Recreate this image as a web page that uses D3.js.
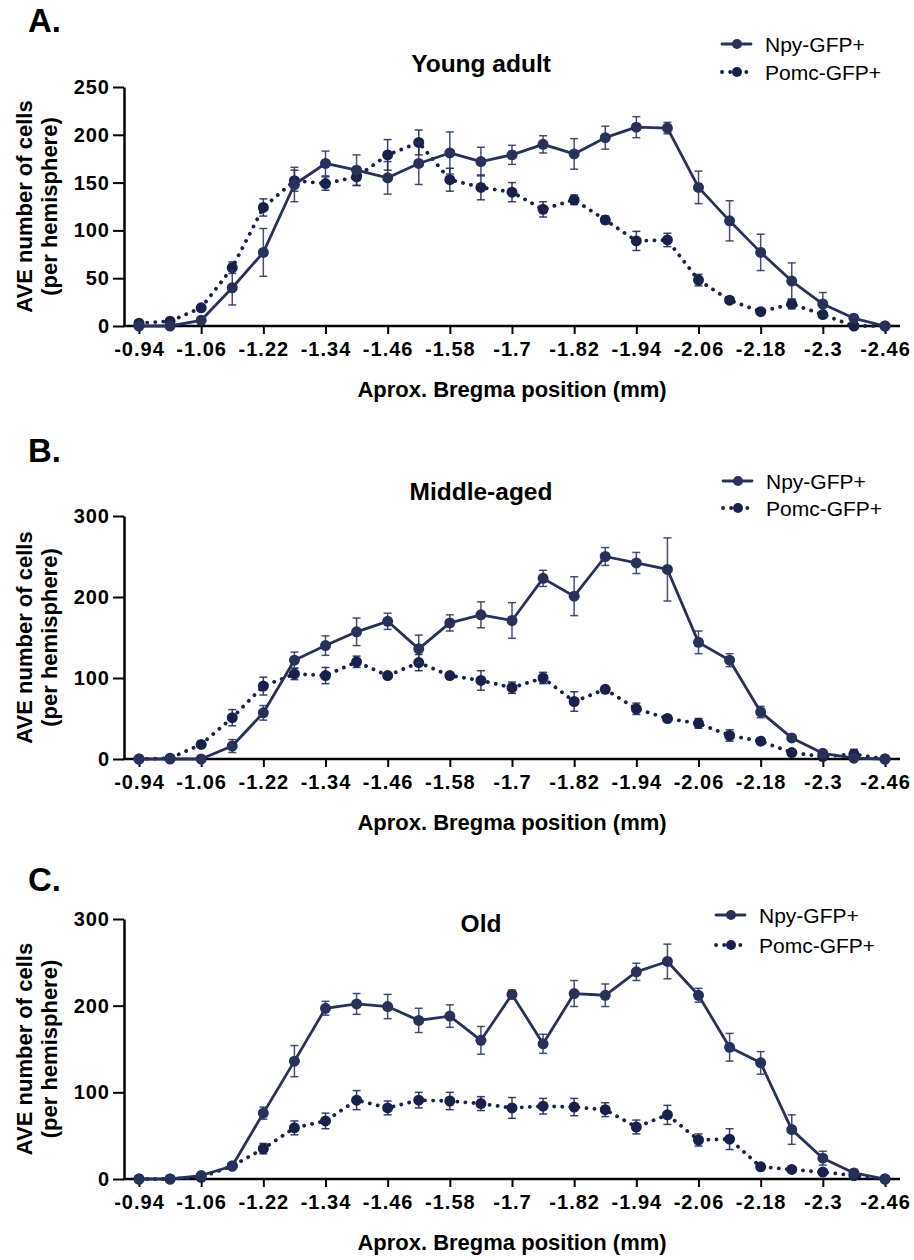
<!DOCTYPE html>
<html>
<head>
<meta charset="utf-8">
<script src="https://cdn.jsdelivr.net/npm/d3@7"></script>
<style>
  body { margin: 0; background: #fff; }
  text { font-family: "Liberation Sans", Arial, Helvetica, sans-serif; fill: #000; }
</style>
</head>
<body>
<div id="chart"></div>
<script>
// bregma positions, one point every half-label
var positions = ["-0.94", "-1.0", "-1.06", "-1.14", "-1.22", "-1.28", "-1.34", "-1.4", "-1.46", "-1.52",
  "-1.58", "-1.64", "-1.7", "-1.76", "-1.82", "-1.88", "-1.94", "-2.0", "-2.06", "-2.12",
  "-2.18", "-2.24", "-2.3", "-2.38", "-2.46"];
var tickPositions = positions.filter(function (d, i) { return i % 2 == 0; });

var seriesNames = ["Npy-GFP+", "Pomc-GFP+"];

// A. young adult
var npyA = [0, 0, 6, 40, 77, 148, 170, 163, 155, 170, 181, 172, 179, 190, 180, 197, 208, 207, 145, 110, 77, 47, 23, 8, 0];
var npyAErr = [1, 1, 2, 18, 25, 18, 13, 16, 17, 22, 22, 15, 10, 9, 16, 12, 11, 6, 17, 21, 19, 19, 12, 4, 1];
var pomcA = [3, 5, 19, 61, 124, 152, 149, 156, 179, 192, 153, 145, 140, 122, 132, 111, 89, 90, 48, 27, 15, 23, 12, 0, 0];
var pomcAErr = [1, 1, 3, 6, 9, 11, 7, 9, 16, 13, 12, 13, 10, 8, 5, 4, 10, 7, 6, 3, 2, 5, 2, 1, 1];

// B. middle-aged
var npyB = [0, 0, 0, 16, 57, 122, 140, 157, 170, 136, 168, 178, 171, 223, 201, 250, 242, 234, 144, 122, 58, 26, 7, 1, 0];
var npyBErr = [1, 1, 1, 8, 9, 10, 12, 17, 10, 17, 10, 16, 22, 10, 24, 11, 13, 39, 14, 8, 7, 2, 2, 1, 1];
var pomcB = [0, 1, 18, 51, 90, 105, 103, 120, 103, 119, 103, 97, 88, 100, 71, 86, 62, 50, 44, 29, 22, 8, 3, 6, 0];
var pomcBErr = [1, 1, 2, 10, 11, 7, 10, 7, 2, 10, 2, 12, 7, 7, 12, 2, 7, 2, 6, 7, 2, 2, 1, 6, 1];

// C. old
var npyC = [0, 0, 4, 15, 76, 136, 197, 202, 199, 183, 188, 160, 213, 156, 214, 212, 239, 251, 212, 152, 134, 57, 24, 7, 0];
var npyCErr = [1, 1, 1, 2, 7, 18, 8, 12, 14, 14, 13, 16, 5, 11, 15, 13, 10, 20, 8, 16, 13, 17, 8, 4, 1];
var pomcC = [0, 0, 2, 15, 35, 59, 67, 91, 82, 91, 90, 87, 82, 84, 83, 80, 60, 74, 45, 46, 14, 11, 8, 4, 0];
var pomcCErr = [1, 1, 1, 2, 6, 8, 9, 11, 8, 9, 10, 8, 12, 9, 10, 8, 8, 11, 7, 12, 2, 2, 2, 1, 1];

var ticksA = [0, 50, 100, 150, 200, 250];
var ticksBC = [0, 100, 200, 300];

var width = 914, height = 1260;
var npyColor = "#27315a";
var pomcColor = "#17214b";

var svg = d3.select("#chart").append("svg")
  .attr("width", width)
  .attr("height", height);

var x = d3.scalePoint()
  .domain(positions)
  .range([139, 885]);

function drawPanel(p) {
  var g = svg.append("g");
  var y = d3.scaleLinear().domain([0, p.max]).range([p.bottom, p.top]);

  g.append("text")
    .attr("x", 28).attr("y", p.letterY)
    .style("font-size", "33px").style("font-weight", "bold")
    .text(p.letter);

  g.append("text")
    .attr("x", 481).attr("y", p.titleY)
    .attr("text-anchor", "middle")
    .style("font-size", "24.5px").style("font-weight", "bold")
    .text(p.title);

  // y axis
  var ya = g.append("g")
    .attr("transform", "translate(124,0)")
    .call(d3.axisLeft(y).tickValues(p.ticks).tickSize(11).tickPadding(3).tickSizeOuter(0));
  ya.select(".domain").attr("stroke-width", 2.5);
  ya.selectAll(".tick line").attr("stroke-width", 2);
  ya.selectAll(".tick text")
    .style("font-size", "20px").style("font-weight", "bold").style("letter-spacing", "1px")
    .attr("fill", "#000");

  // x axis, line runs a bit past the outer points
  var xa = g.append("g")
    .attr("transform", "translate(0," + p.bottom + ")")
    .call(d3.axisBottom(x).tickValues(tickPositions).tickSize(8).tickPadding(8).tickSizeOuter(0));
  xa.select(".domain").attr("d", "M123,0H900").attr("stroke-width", 2.5);
  xa.selectAll(".tick line").attr("stroke-width", 2);
  xa.selectAll(".tick text")
    .style("font-size", "20px").style("font-weight", "bold").style("letter-spacing", "1px")
    .attr("fill", "#000");

  g.append("text")
    .attr("x", 512).attr("y", p.bottom + 71)
    .attr("text-anchor", "middle")
    .style("font-size", "22px").style("font-weight", "bold")
    .text("Aprox. Bregma position (mm)");

  var mid = (p.top + p.bottom) / 2;
  var yt = g.append("text")
    .attr("transform", "translate(32," + mid + ") rotate(-90)")
    .attr("text-anchor", "middle")
    .style("font-size", "22px").style("font-weight", "bold");
  yt.append("tspan").attr("x", 0).attr("y", 0).text("AVE number of cells");
  yt.append("tspan").attr("x", 0).attr("y", 25).text("(per hemisphere)");

  var series = [
    { name: seriesNames[0], vals: p.npy, errs: p.npyErr, color: npyColor, dash: null, width: 2.8 },
    { name: seriesNames[1], vals: p.pomc, errs: p.pomcErr, color: pomcColor, dash: "0.1,8", width: 3.8 }
  ];

  var line = d3.line()
    .x(function (d) { return x(d.pos); })
    .y(function (d) { return y(d.v); });

  // pomc drawn first so npy sits on top like the original
  series.slice().reverse().forEach(function (s) {
    var pts = positions.map(function (pos, i) { return { pos: pos, v: s.vals[i], e: s.errs[i] }; });
    var sg = g.append("g");

    var eb = sg.selectAll(".err").data(pts).enter().append("g")
      .attr("stroke", s.color).attr("stroke-width", 1.5).attr("stroke-opacity", 0.85);
    eb.append("line")
      .attr("x1", function (d) { return x(d.pos); }).attr("x2", function (d) { return x(d.pos); })
      .attr("y1", function (d) { return y(d.v + d.e); }).attr("y2", function (d) { return y(Math.max(0, d.v - d.e)); });
    eb.append("line")
      .attr("x1", function (d) { return x(d.pos) - 4; }).attr("x2", function (d) { return x(d.pos) + 4; })
      .attr("y1", function (d) { return y(d.v + d.e); }).attr("y2", function (d) { return y(d.v + d.e); });
    eb.append("line")
      .attr("x1", function (d) { return x(d.pos) - 4; }).attr("x2", function (d) { return x(d.pos) + 4; })
      .attr("y1", function (d) { return y(Math.max(0, d.v - d.e)); }).attr("y2", function (d) { return y(Math.max(0, d.v - d.e)); });

    sg.append("path")
      .datum(pts)
      .attr("d", line)
      .attr("fill", "none")
      .attr("stroke", s.color)
      .attr("stroke-width", s.width)
      .attr("stroke-linecap", "round")
      .attr("stroke-linejoin", "round")
      .attr("stroke-dasharray", s.dash);

    sg.selectAll("circle").data(pts).enter().append("circle")
      .attr("cx", function (d) { return x(d.pos); })
      .attr("cy", function (d) { return y(d.v); })
      .attr("r", 5.5)
      .attr("fill", s.color);
  });

  // legend
  var lg = g.append("g").attr("transform", "translate(" + p.legX + "," + p.legY + ")");
  series.forEach(function (s, i) {
    var row = lg.append("g").attr("transform", "translate(0," + (i * p.legGap) + ")");
    row.append("line")
      .attr("x1", 0).attr("x2", 29).attr("y1", 0).attr("y2", 0)
      .attr("stroke", s.color).attr("stroke-width", s.width)
      .attr("stroke-linecap", "round")
      .attr("stroke-dasharray", s.dash);
    row.append("circle").attr("cx", 15).attr("cy", 0).attr("r", 5).attr("fill", s.color);
    row.append("text")
      .attr("x", 43).attr("y", 7.5)
      .style("font-size", "21px")
      .text(s.name);
  });
}

drawPanel({ letter: "A.", letterY: 32, title: "Young adult", titleY: 72, max: 250, ticks: ticksA,
  top: 87, bottom: 326, npy: npyA, npyErr: npyAErr, pomc: pomcA, pomcErr: pomcAErr,
  legX: 722, legY: 44, legGap: 28 });
drawPanel({ letter: "B.", letterY: 462, title: "Middle-aged", titleY: 500, max: 300, ticks: ticksBC,
  top: 516, bottom: 759, npy: npyB, npyErr: npyBErr, pomc: pomcB, pomcErr: pomcBErr,
  legX: 723, legY: 481, legGap: 27 });
drawPanel({ letter: "C.", letterY: 891, title: "Old", titleY: 932, max: 300, ticks: ticksBC,
  top: 919, bottom: 1179, npy: npyC, npyErr: npyCErr, pomc: pomcC, pomcErr: pomcCErr,
  legX: 716, legY: 915, legGap: 30 });
</script>
</body>
</html>
